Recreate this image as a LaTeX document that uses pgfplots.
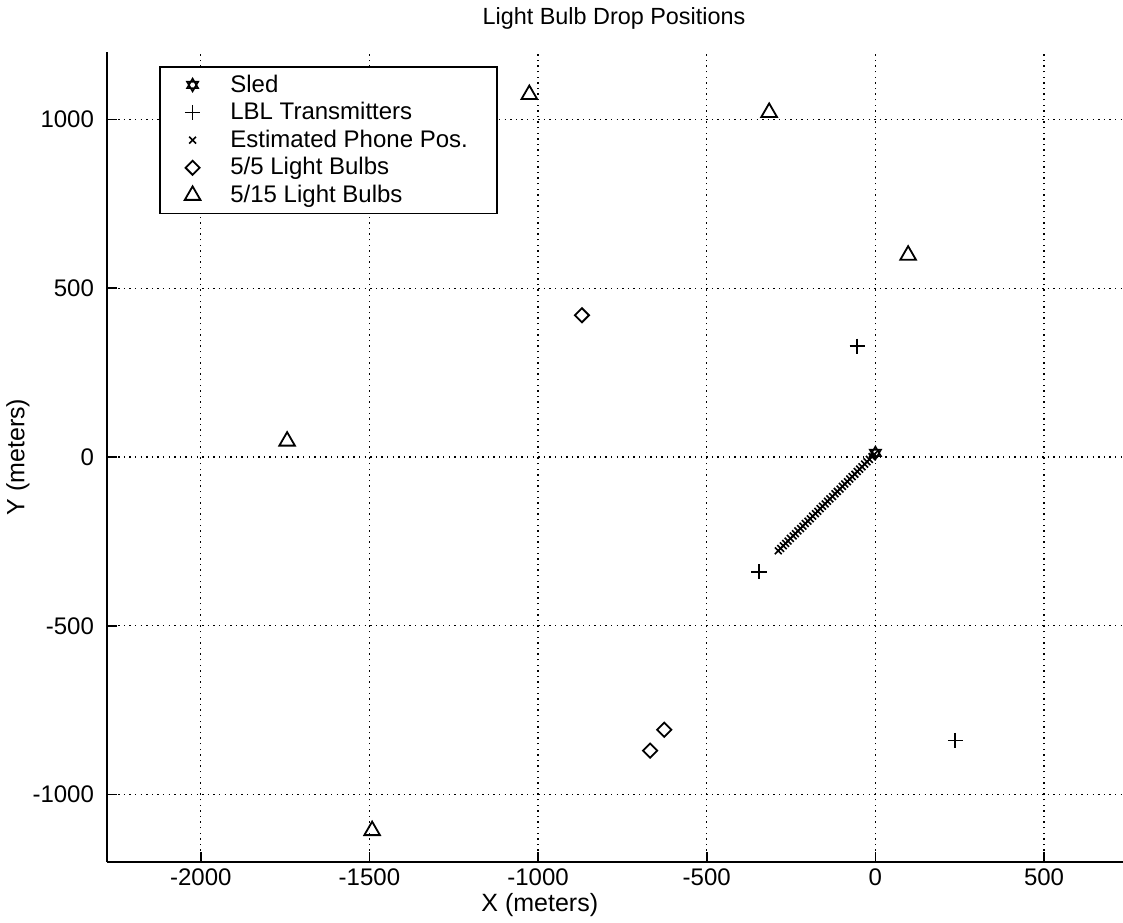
\documentclass[border=0pt]{standalone}
\usepackage{fontspec}
\setmainfont{Liberation Sans}
\usepackage{pgfplots}
\pgfplotsset{compat=1.18}

\pgfdeclareplotmark{hexagram}{%
  \pgfpathmoveto{\pgfpointpolar{90}{\pgfplotmarksize}}%
  \pgfpathlineto{\pgfpointpolar{210}{\pgfplotmarksize}}%
  \pgfpathlineto{\pgfpointpolar{330}{\pgfplotmarksize}}%
  \pgfpathclose
  \pgfpathmoveto{\pgfpointpolar{270}{\pgfplotmarksize}}%
  \pgfpathlineto{\pgfpointpolar{30}{\pgfplotmarksize}}%
  \pgfpathlineto{\pgfpointpolar{150}{\pgfplotmarksize}}%
  \pgfpathclose
  \pgfusepathqstroke}

\begin{document}
\begin{tikzpicture}
\begin{axis}[
  scale only axis, width=508pt, height=405pt,
  xmin=-2278, xmax=734, ymin=-1200, ymax=1200,
  axis x line*=bottom, axis y line*=left,
  axis line style={line width=0.9pt, -},
  xtick={-2000,-1500,...,500}, ytick={-1000,-500,...,1000},
  tick align=inside, major tick length=5pt,
  tick style={black, line width=0.8pt},
  grid=major,
  grid style={black, line width=0.6pt, dash pattern=on 0.7pt off 2.1pt},
  /pgf/number format/assume math mode=true,
  /pgf/number format/set thousands separator={},
  ticklabel style={font=\fontsize{12}{14}\selectfont},
  yticklabel style={xshift=-3pt},
  title={Light Bulb Drop Positions},
  title style={font=\fontsize{11.7}{13}\selectfont, at={(axis description cs:0.499,1)}, anchor=center, yshift=11pt},
  xlabel={X (meters)},
  xlabel style={font=\fontsize{12.5}{14}\selectfont, at={(axis description cs:0.426,0)}, anchor=center, yshift=-21.5pt},
  ylabel={Y (meters)},
  ylabel style={font=\fontsize{12.5}{14}\selectfont, at={(axis description cs:0,0.5)}, anchor=center, yshift=44.5pt},
  legend style={at={(axis description cs:0,1)}, anchor=north west, xshift=26pt, yshift=-7pt,
    draw=black, line width=0.8pt, fill=white, font=\fontsize{12}{14}\selectfont,
    inner xsep=12.5pt, inner ysep=2pt, row sep=-0.4pt},
  legend cell align=left,
]
\addplot[only marks, mark=hexagram, mark size=3.2pt, line width=0.8pt] coordinates {(0,12)};
\addlegendentry{\hspace{13pt}Sled}
\addplot[only marks, mark=+, mark size=3.8pt, line width=0.9pt] coordinates {(-54,328) (-345,-340) (237,-840)};
\addlegendentry{\hspace{13pt}LBL Transmitters}
\addplot[only marks, mark=x, mark size=2.4pt, line width=0.8pt] coordinates {
(-3,8) (-10,1) (-18,-7) (-25,-14) (-32,-21) (-40,-29) (-47,-36) (-54,-43)
(-61,-51) (-69,-58) (-76,-65) (-83,-73) (-91,-80) (-98,-87) (-105,-95)
(-113,-102) (-120,-109) (-127,-117) (-135,-124) (-142,-131) (-149,-139)
(-157,-146) (-164,-153) (-171,-161) (-178,-168) (-186,-175) (-193,-183)
(-200,-190) (-208,-197) (-215,-205) (-222,-212) (-230,-219) (-237,-227)
(-244,-234) (-252,-241) (-259,-249) (-266,-256) (-273,-263) (-281,-271) (-288,-278)};
\addlegendentry{\hspace{13pt}Estimated Phone Pos.}
\addplot[only marks, mark=square, mark size=2.5pt, mark options={rotate=45}, line width=0.9pt] coordinates {(-870,420) (-626,-808) (-668,-870)};
\addlegendentry{\hspace{13pt}5/5 Light Bulbs}
\addplot[only marks, mark=triangle, mark size=4.5pt, line width=0.9pt] coordinates {(-1026,1074) (-315,1021) (97,598) (-1744,47) (-1492,-1107)};
\addlegendentry{\hspace{13pt}5/15 Light Bulbs}
\end{axis}
\pgfresetboundingbox
\path[use as bounding box] ([xshift=-53.5pt,yshift=-30pt]current axis.south west) rectangle ([yshift=26pt]current axis.north east);
\end{tikzpicture}
\end{document}
